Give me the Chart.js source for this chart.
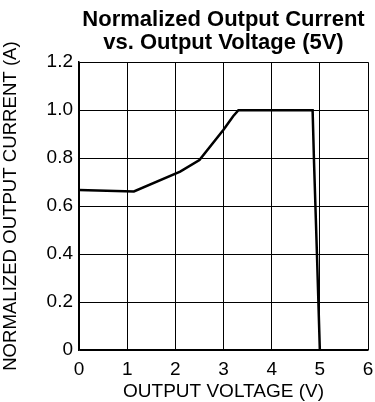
<!DOCTYPE html>
<html>
<head>
<meta charset="utf-8">
<script src="https://cdn.jsdelivr.net/npm/chart.js@4"></script>
<style>
  html, body { margin: 0; padding: 0; background: #fff; }
  #wrap { width: 375px; height: 402px; }
</style>
</head>
<body>
<div id="wrap"><canvas id="chart" width="375" height="402"></canvas></div>
<script>
// output voltage (V) and normalized current
const voltage = [0, 1.14, 2.1, 2.5, 3.0, 3.2, 3.31, 4.85, 4.88, 4.94, 5.0];
const current = [0.667, 0.661, 0.744, 0.792, 0.918, 0.975, 1.0, 1.0, 0.78, 0.4, 0.0];
const xTicks = [0, 1, 2, 3, 4, 5, 6];
const yTicks = [0, 0.2, 0.4, 0.6, 0.8, 1.0, 1.2];
const titleLines = ["Normalized Output Current", "vs. Output Voltage (5V)"];

const FONT = "'Liberation Sans', Arial, sans-serif";

const points = voltage.map((v, i) => ({ x: v, y: current[i] }));

new Chart(document.getElementById("chart"), {
  type: "line",
  data: {
    datasets: [{
      data: points,
      borderColor: "#000",
      borderWidth: 2.5,
      pointRadius: 0,
      tension: 0,
      fill: false
    }]
  },
  options: {
    responsive: false,
    animation: false,
    layout: { padding: 0 },
    plugins: {
      legend: { display: false },
      tooltip: { enabled: false },
      title: {
        display: true,
        text: titleLines,
        fullSize: false,
        color: "#000",
        font: { family: FONT, size: 22, weight: "bold", lineHeight: 1.05 },
        padding: { top: 8, bottom: 8 }
      }
    },
    scales: {
      x: {
        type: "linear",
        min: 0,
        max: 6,
        afterBuildTicks: (s) => { s.ticks = xTicks.map(v => ({ value: v })); },
        afterFit: (s) => { s.height = 52; s.paddingRight = 7; },
        grid: { color: "#000", lineWidth: 1, drawTicks: false },
        border: { color: "#000", width: 1.5 },
        ticks: { color: "#000", padding: 8, font: { family: FONT, size: 19 } },
        title: {
          display: true,
          text: "OUTPUT VOLTAGE (V)",
          color: "#000",
          font: { family: FONT, size: 19, lineHeight: 1.05 },
          padding: { top: 0, bottom: 0 }
        }
      },
      y: {
        type: "linear",
        min: 0,
        max: 1.2,
        afterBuildTicks: (s) => { s.ticks = yTicks.map(v => ({ value: v })); },
        afterFit: (s) => { s.width = 79; },
        grid: { color: "#000", lineWidth: 1, drawTicks: false },
        border: { color: "#000", width: 1.5 },
        ticks: {
          color: "#000",
          padding: 6,
          font: { family: FONT, size: 19 },
          callback: (v) => v === 0 ? "0" : v.toFixed(1)
        },
        title: {
          display: true,
          text: "NORMALIZED OUTPUT CURRENT (A)",
          color: "#000",
          font: { family: FONT, size: 18.6, lineHeight: 1.1 },
          padding: { top: 1, bottom: 0 }
        }
      }
    }
  }
});
</script>
</body>
</html>
